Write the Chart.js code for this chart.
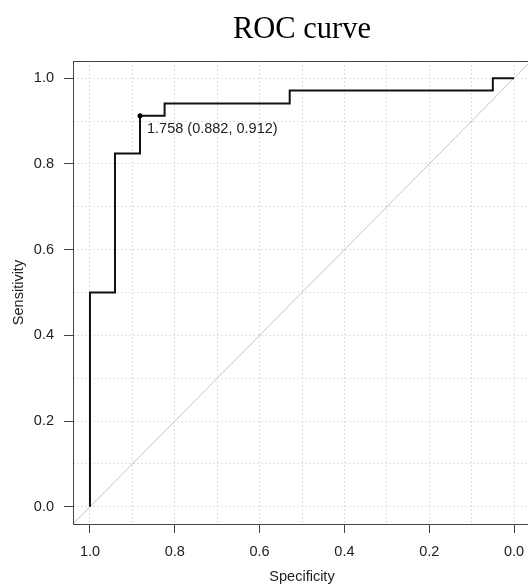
<!DOCTYPE html>
<html>
<head>
<meta charset="utf-8">
<script src="https://cdn.jsdelivr.net/npm/chart.js@4"></script>
<style>
  html, body { margin: 0; padding: 0; background: #fff; overflow: hidden; }
  #wrap { width: 548px; height: 586px; }
</style>
</head>
<body>
<div id="wrap"><canvas id="roc" width="548" height="586"></canvas></div>
<script>
// ROC curve vertices (specificity, sensitivity)
const specificity = [1.0, 1.0, 0.941, 0.941, 0.882, 0.882, 0.824, 0.824, 0.529, 0.529, 0.05, 0.05, 0.0];
const sensitivity = [0.0, 0.5, 0.5, 0.824, 0.824, 0.912, 0.912, 0.941, 0.941, 0.971, 0.971, 1.0, 1.0];

// best threshold point
const bestThreshold = 1.758;
const bestSpec = 0.882;
const bestSens = 0.912;

// chance line and grid / tick values
const chanceSpec = [1.04, -0.04];
const chanceSens = [-0.04, 1.04];
const gridValues = [0, 0.1, 0.2, 0.3, 0.4, 0.5, 0.6, 0.7, 0.8, 0.9, 1.0];
const tickLabels = [0, 0.2, 0.4, 0.6, 0.8, 1.0];

const isLabelled = (v) => tickLabels.some((t) => Math.abs(t - v) < 1e-6);
const FONT = "'Liberation Sans', Arial, sans-serif";

const axisFor = (titleText, titlePadding, size) => ({
  type: "linear",
  min: -0.04,
  max: 1.04,
  afterBuildTicks: (scale) => {
    scale.ticks = gridValues.map((v) => ({ value: v }));
  },
  afterFit: (scale) => {
    if (scale.isHorizontal()) scale.height = size;
    else scale.width = size;
  },
  grid: {
    color: "#e0e0e0",
    lineWidth: 1,
    tickLength: 9,
    tickWidth: 1,
    tickColor: (ctx) => (ctx.tick && isLabelled(ctx.tick.value) ? "#444" : "rgba(0,0,0,0)"),
  },
  border: { display: false, dash: [2, 2] },
  ticks: {
    autoSkip: false,
    maxRotation: 0,
    padding: 10,
    color: "#222",
    font: { family: FONT, size: 14.5 },
    callback: (v) => (isLabelled(v) ? Number(v).toFixed(1) : ""),
  },
  title: {
    display: true,
    text: titleText,
    color: "#222",
    font: { family: FONT, size: 14.5 },
    padding: titlePadding,
  },
});

// box around the plot region + label for the best threshold
const framePlugin = {
  id: "frame",
  afterDatasetsDraw(chart) {
    const { ctx, chartArea: a, scales } = chart;
    ctx.save();
    ctx.strokeStyle = "#444";
    ctx.lineWidth = 1;
    ctx.strokeRect(Math.round(a.left) + 0.5, Math.round(a.top) + 0.5,
      Math.round(a.right - a.left), Math.round(a.bottom - a.top));
    const px = scales.x.getPixelForValue(bestSpec);
    const py = scales.y.getPixelForValue(bestSens);
    ctx.fillStyle = "#222";
    ctx.font = "14.5px " + FONT;
    ctx.textBaseline = "middle";
    ctx.textAlign = "left";
    ctx.fillText(`${bestThreshold.toFixed(3)} (${bestSpec.toFixed(3)}, ${bestSens.toFixed(3)})`, px + 7, py + 13);
    ctx.restore();
  },
};

new Chart(document.getElementById("roc"), {
  type: "line",
  data: {
    datasets: [
      {
        label: "ROC",
        data: specificity.map((s, i) => ({ x: s, y: sensitivity[i] })),
        borderColor: "#111",
        borderWidth: 2,
        pointRadius: 0,
        tension: 0,
        order: 1,
      },
      {
        label: "best",
        data: [{ x: bestSpec, y: bestSens }],
        showLine: false,
        pointRadius: 2.5,
        pointBackgroundColor: "#000",
        pointBorderWidth: 0,
        order: 0,
      },
      {
        label: "chance",
        data: chanceSpec.map((s, i) => ({ x: s, y: chanceSens[i] })),
        borderColor: "#c4c4c4",
        borderWidth: 1,
        pointRadius: 0,
        order: 2,
      },
    ],
  },
  options: {
    responsive: false,
    animation: false,
    layout: { padding: { left: 0, right: 17, top: 0, bottom: 0 } },
    scales: {
      x: Object.assign(axisFor("Specificity", { top: 0, bottom: 0 }, 62), { reverse: true }),
      y: axisFor("Sensitivity", { top: 10, bottom: 0 }, 73),
    },
    plugins: {
      legend: { display: false },
      tooltip: { enabled: false },
      title: {
        display: true,
        text: "ROC curve",
        fullSize: false,
        color: "#000",
        font: { family: "'Liberation Serif', 'Times New Roman', serif", size: 30.5, weight: "normal" },
        padding: { top: 12, bottom: 12.4 },
      },
    },
  },
  plugins: [framePlugin],
});
</script>
</body>
</html>
